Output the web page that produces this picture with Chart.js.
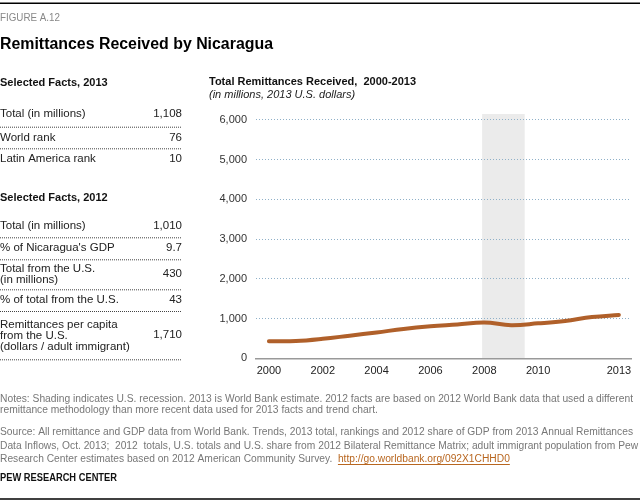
<!DOCTYPE html>
<html>
<head>
<meta charset="utf-8">
<script src="https://cdn.jsdelivr.net/npm/chart.js@4.4.1/dist/chart.umd.min.js"></script>
<style>
  html, body { margin: 0; padding: 0; background: #fff; }
  canvas { display: block; }
</style>
</head>
<body>
<canvas id="c" width="640" height="502"></canvas>
<script>
// ---- Data ----
const years = [2000, 2001, 2002, 2003, 2004, 2005, 2006, 2007, 2008, 2009, 2010, 2011, 2012, 2013];
const remittances = [430, 435, 490, 570, 650, 740, 805, 850, 900, 835, 880, 940, 1040, 1090];
const xTickYears = [2000, 2002, 2004, 2006, 2008, 2010, 2013];
const yTickValues = [0, 1000, 2000, 3000, 4000, 5000, 6000];
const recession = [2007.92, 2009.5];

const facts2013Labels = [["Total (in millions)"], ["World rank"], ["Latin America rank"]];
const facts2013Values = ["1,108", "76", "10"];
const facts2012Labels = [["Total (in millions)"], ["% of Nicaragua's GDP"], ["Total from the U.S.", "(in millions)"], ["% of total from the U.S."], ["Remittances per capita", "from the U.S.", "(dollars / adult immigrant)"]];
const facts2012Values = ["1,010", "9.7", "430", "43", "1,710"];

const noteLines = [
  "Notes: Shading indicates U.S. recession. 2013 is World Bank estimate. 2012 facts are based on 2012 World Bank data that used a different",
  "remittance methodology than more recent data used for 2013 facts and trend chart."
];
const sourceLines = [
  "Source: All remittance and GDP data from World Bank. Trends, 2013 total, rankings and 2012 share of GDP from 2013 Annual Remittances",
  "Data Inflows, Oct. 2013;  2012  totals, U.S. totals and U.S. share from 2012 Bilateral Remittance Matrix; adult immigrant population from Pew",
  "Research Center estimates based on 2012 American Community Survey.  "
];
const sourceUrl = "http://go.worldbank.org/092X1CHHD0";

const FONT = "'Liberation Sans', Arial, sans-serif";

function txt(ctx, s, x, y, font, color, opts) {
  opts = opts || {};
  ctx.save();
  ctx.font = font;
  ctx.fillStyle = color;
  ctx.textBaseline = 'middle';
  const w = ctx.measureText(s).width;
  let sx = opts.sx || 1;
  if (opts.maxW && w * sx > opts.maxW) sx = opts.maxW / w;
  let drawX = x;
  if (opts.align === 'right') drawX = x - w * sx;
  ctx.translate(drawX, y);
  ctx.scale(sx, 1);
  ctx.fillText(s, 0, 0);
  ctx.restore();
  return w * sx;
}

function dotted(ctx, x1, x2, y) {
  ctx.save();
  ctx.strokeStyle = '#444';
  ctx.lineWidth = 1;
  ctx.setLineDash([1, 1]);
  ctx.beginPath();
  ctx.moveTo(x1, y + 0.5);
  ctx.lineTo(x2, y + 0.5);
  ctx.stroke();
  ctx.restore();
}

const shadePlugin = {
  id: 'shade',
  beforeDraw(chart) {
    const ctx = chart.ctx, xs = chart.scales.x, a = chart.chartArea;
    const x1 = xs.getPixelForValue(recession[0]);
    const x2 = xs.getPixelForValue(recession[1]);
    ctx.save();
    ctx.fillStyle = '#ebebeb';
    ctx.fillRect(x1, a.top, x2 - x1, a.bottom - a.top);
    ctx.restore();
  }
};

const textPlugin = {
  id: 'texts',
  afterDraw(chart) {
    const ctx = chart.ctx;
    ctx.save();
    ctx.strokeStyle = '#000';
    ctx.lineWidth = 1.5;
    ctx.beginPath(); ctx.moveTo(0, 3.3); ctx.lineTo(640, 3.3); ctx.stroke();
    ctx.beginPath(); ctx.moveTo(0, 499); ctx.lineTo(640, 499); ctx.stroke();
    ctx.restore();

    txt(ctx, "FIGURE A.12", 0, 18.3, "10.5px " + FONT, '#888', {maxW: 60});
    txt(ctx, "Remittances Received by Nicaragua", 0, 45, "bold 16px " + FONT, '#000', {maxW: 273});

    const valX = 182;
    const LF = "11.5px " + FONT;
    txt(ctx, "Selected Facts, 2013", 0, 83, "bold 11px " + FONT, '#111', {maxW: 113});
    const r13 = [114, 137.7, 159.3];
    const d13 = [126.7, 148.3];
    facts2013Labels.forEach((lab, i) => {
      txt(ctx, lab[0], 0, r13[i], LF, '#222', {maxW: 150});
      txt(ctx, facts2013Values[i], valX, r13[i], LF, '#222', {align: 'right'});
    });
    d13.forEach(y => dotted(ctx, 0, valX, y));

    txt(ctx, "Selected Facts, 2012", 0, 198.3, "bold 11px " + FONT, '#111', {maxW: 113});
    const rows12 = [[226], [248.3], [269.3, 280], [300], [325, 335.7, 346.7]];
    const vals12Y = [226, 248.3, 274.3, 300, 335];
    const d12 = [237.3, 259.3, 289.3, 311, 359.3];
    facts2012Labels.forEach((lab, i) => {
      lab.forEach((l, j) => txt(ctx, l, 0, rows12[i][j], LF, '#222', {maxW: 136}));
      txt(ctx, facts2012Values[i], valX, vals12Y[i], LF, '#222', {align: 'right'});
    });
    d12.forEach(y => dotted(ctx, 0, valX, y));

    txt(ctx, "Total Remittances Received,  2000-2013", 209, 81.7, "bold 11px " + FONT, '#111', {maxW: 212});
    txt(ctx, "(in millions, 2013 U.S. dollars)", 209, 95, "italic 11px " + FONT, '#222', {maxW: 152});

    ctx.save();
    ctx.font = "10px " + FONT;
    const sxN = 633 / ctx.measureText(noteLines[0]).width;
    const sxS = 633 / ctx.measureText(sourceLines[0]).width;
    ctx.restore();
    const nY = [399, 410.7];
    noteLines.forEach((l, i) => txt(ctx, l, 0, nY[i], "10px " + FONT, '#777', {sx: sxN}));
    const sY = [432.3, 446, 459];
    let lastW = 0;
    sourceLines.forEach((l, i) => { lastW = txt(ctx, l, 0, sY[i], "10px " + FONT, '#777', {sx: sxS}); });
    const uw = txt(ctx, sourceUrl, lastW, sY[2], "10px " + FONT, '#b8661f', {sx: sxS});
    ctx.save();
    ctx.strokeStyle = '#b8661f';
    ctx.lineWidth = 1;
    ctx.beginPath(); ctx.moveTo(lastW, sY[2] + 5.5); ctx.lineTo(lastW + uw, sY[2] + 5.5); ctx.stroke();
    ctx.restore();

    txt(ctx, "PEW RESEARCH CENTER", 0, 478.3, "bold 10px " + FONT, '#111', {maxW: 117});
  }
};

new Chart(document.getElementById('c'), {
  type: 'line',
  data: {
    datasets: [{
      data: years.map((y, i) => ({x: y, y: remittances[i]})),
      borderColor: '#b0602a',
      borderWidth: 4,
      borderCapStyle: 'round',
      borderJoinStyle: 'round',
      pointRadius: 0,
      tension: 0.4,
      fill: false
    }]
  },
  options: {
    responsive: false,
    animation: false,
    devicePixelRatio: 1,
    layout: { padding: { top: 114, right: 9, left: 0, bottom: 0 } },
    plugins: { legend: { display: false }, tooltip: { enabled: false }, title: { display: false } },
    scales: {
      x: {
        type: 'linear',
        min: 1999.52,
        max: 2013.45,
        afterBuildTicks(scale) { scale.ticks = xTickYears.map(v => ({value: v})); },
        afterFit(scale) { scale.height = 502 - 358.3; },
        grid: { display: false, drawTicks: false },
        border: { display: true, color: '#999', width: 1.5 },
        ticks: {
          autoSkip: false, maxRotation: 0, padding: 6,
          color: '#222', font: { family: FONT, size: 11 },
          callback: v => String(v)
        }
      },
      y: {
        min: 0,
        max: 6150,
        afterBuildTicks(scale) { scale.ticks = yTickValues.map(v => ({value: v})); },
        afterFit(scale) { scale.width = 256; },
        grid: {
          drawTicks: false,
          color: ctx => ctx.tick && ctx.tick.value === 0 ? 'rgba(0,0,0,0)' : '#8fb0c8',
          lineWidth: 1
        },
        border: { display: false, dash: [1, 2] },
        ticks: {
          padding: 9,
          color: '#333', font: { family: FONT, size: 11 },
          callback: v => v.toLocaleString('en-US')
        }
      }
    }
  },
  plugins: [shadePlugin, textPlugin]
});
</script>
</body>
</html>
